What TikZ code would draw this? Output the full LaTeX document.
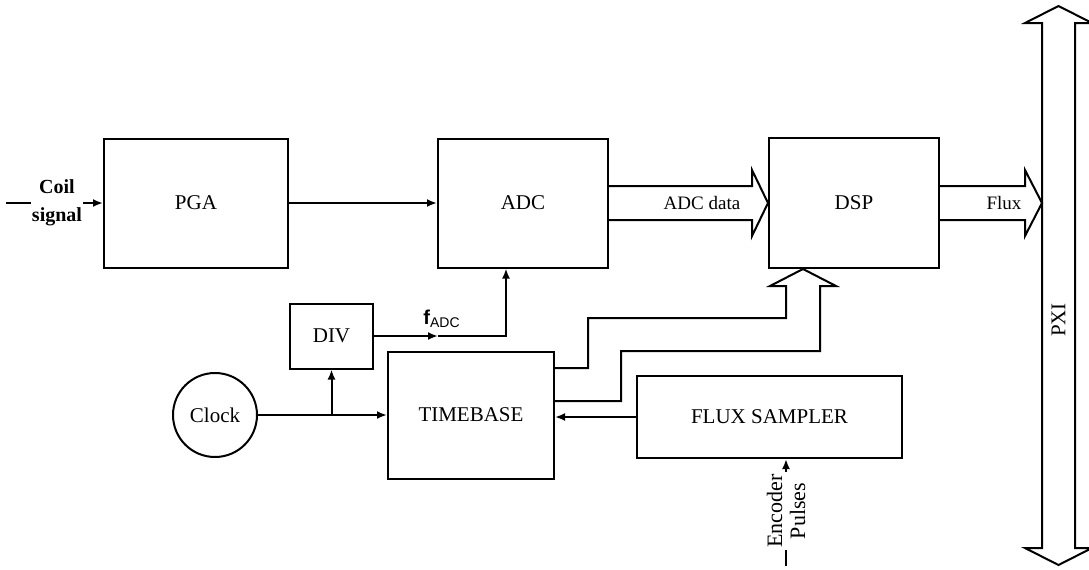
\documentclass[tikz,border=0pt]{standalone}
\usepackage{fontspec}
\setmainfont{Liberation Serif}
\setsansfont{Liberation Sans}
\usetikzlibrary{arrows.meta,calc}
\begin{document}
\begin{tikzpicture}[x=0.5pt,y=-0.5pt,
	blok/.style={draw, line width=1pt, inner sep=0pt, font=\fontsize{10.5}{12}\selectfont},
	arr/.style={line width=1pt, -{Latex[length=5pt,width=4pt]}},
	wire/.style={line width=1pt},
	bus/.style={line width=1pt, line join=miter},
	lbl/.style={inner sep=1pt, font=\fontsize{9.5}{12}\selectfont}]
	\useasboundingbox (0,0) rectangle (1089,569);
	% blocks
	\node[blok, minimum width=92pt, minimum height=64.5pt] (pga) at (196,203) {PGA};
	\node[blok, minimum width=85pt, minimum height=64.5pt] (adc) at (523,203) {ADC};
	\node[blok, minimum width=85pt, minimum height=65pt] (dsp) at (854,203) {DSP};
	\node[blok, minimum width=41.5pt, minimum height=32.5pt] (div) at (331.5,336) {DIV};
	\node[blok, circle, minimum size=42pt] (clock) at (215,415) {Clock};
	\node[blok, minimum width=83pt, minimum height=63.5pt] (tb) at (471,415) {TIMEBASE};
	\node[blok, minimum width=132.5pt, minimum height=41pt] (fs) at (769.5,417) {FLUX SAMPLER};
	% PXI bus
	\coordinate (pxiin) at (1042,203);
	\draw[bus] (1042,23) -- (1025,23) -- (1058.5,6) -- (1092,23) -- (1075,23) -- (1075,548)
		-- (1092,548) -- (1058.5,565) -- (1025,548) -- (1042,548) -- cycle;
	\node[blok, draw=none, rotate=90] (pxi) at (1058.5,320) {PXI};
	% inputs
	\coordinate (coilin) at (6,203);
	\node[lbl, inner sep=0.5pt, align=center, font=\bfseries\fontsize{10}{14}\selectfont] (coil) at (57,203) {Coil\\signal};
	\draw[wire] (coilin) -- (coil);
	\draw[arr] (coil) -- (pga);
	\coordinate (encin) at (786,566);
	\node[lbl, rotate=90, align=center, font=\fontsize{11}{11.5}\selectfont] (enc) at (786,511) {Encoder\\Pulses};
	\draw[wire] (encin) -- (enc);
	\draw[arr] (enc) -- (enc |- fs.south);
	% signal path
	\draw[arr] (pga) -- (adc);
	\draw[bus] ($(adc.east)+(0,-17)$) -- ($(dsp.west)+(-16,-17)$) -- ($(dsp.west)+(-16,-33)$) -- (dsp.west)
		-- ($(dsp.west)+(-16,33)$) -- ($(dsp.west)+(-16,17)$) -- ($(adc.east)+(0,17)$);
	\node[lbl] (adcdata) at (702,203) {ADC data};
	\draw[bus] ($(dsp.east)+(0,-17)$) -- ($(pxiin)+(-17,-17)$) -- ($(pxiin)+(-17,-33)$) -- (pxiin)
		-- ($(pxiin)+(-17,33)$) -- ($(pxiin)+(-17,17)$) -- ($(dsp.east)+(0,17)$);
	\node[lbl] (flux) at (1004,203) {Flux};
	% clocks
	\draw[arr] (clock.east) -- (tb.west);
	\draw[arr] (clock.east -| div.south) -- (div.south);
	\draw[arr] (div.east) -- ++(64,0) coordinate (fadc);
	\draw[arr] (fadc) -| ($(adc.south)+(-17,0)$);
	\node[anchor=south, inner sep=1pt, font=\sffamily\fontsize{10}{12}\selectfont] (fadclbl) at ($(fadc)+(4,-6)$) {\textbf{f}\textsubscript{ADC}};
	% timebase links
	\draw[bus] ($(tb.east)+(0,-47)$) -| (588,318) -| ($(dsp.south)+(-68,17)$) -- ++(-16,0)
		-- ($(dsp.south)+(-51,0)$) -- ++(33,17) -- ++(-16,0) |- (621,351) |- ($(tb.east)+(0,-14)$);
	\draw[arr] (fs.west) -- (fs.west -| tb.east);
\end{tikzpicture}
\end{document}
